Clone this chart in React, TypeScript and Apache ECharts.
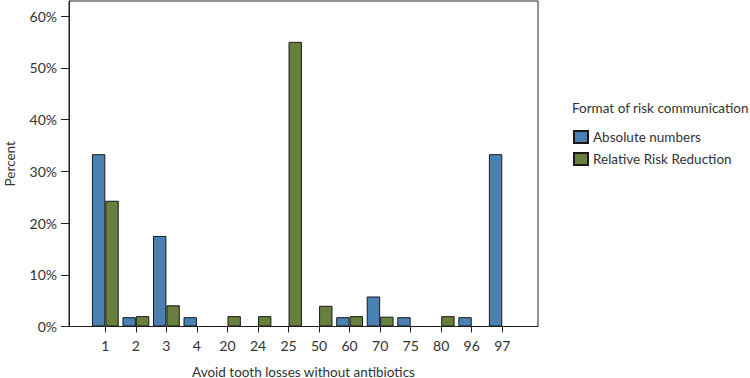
import React, { useEffect, useRef } from "react";
import * as echarts from "echarts";

const categories = ["1", "2", "3", "4", "20", "24", "25", "50", "60", "70", "75", "80", "96", "97"];
const absoluteNumbers = [33.3, 1.8, 17.5, 1.8, 0, 0, 0, 0, 1.8, 5.8, 1.8, 0, 1.8, 33.3];
const relativeRiskReduction = [24.3, 2.0, 4.1, 0, 2.0, 2.0, 55.0, 4.0, 2.0, 1.9, 0, 2.0, 0, 0];
const yTicks = [0, 10, 20, 30, 40, 50, 60];

const FONT = "Lato";
const TEXT = "#333";

export default function App() {
  const ref = useRef<HTMLDivElement>(null);
  useEffect(() => {
    if (!ref.current) return;
    const chart = echarts.init(ref.current, null, { renderer: "svg" });
    const idx = categories.map((_, i) => i);
    chart.setOption({
      animation: false,
      textStyle: { fontFamily: FONT, color: TEXT },
      title: {
        text: "Format of risk communication",
        left: 572,
        top: 101,
        textStyle: { fontFamily: FONT, fontSize: 13.5, fontWeight: "normal", color: TEXT },
        padding: 0,
      },
      legend: {
        orient: "vertical",
        left: 573,
        top: 130,
        itemWidth: 14,
        itemHeight: 12,
        itemGap: 8,
        padding: 0,
        icon: "rect",
        textStyle: { fontFamily: FONT, fontSize: 13.5, color: TEXT },
      },
      grid: {
        left: 69,
        right: 750 - 538,
        top: 1,
        bottom: 378 - 326.5,
        show: true,
        borderColor: "#222",
        borderWidth: 1,
        containLabel: false,
        outerBoundsMode: "none",
      },
      xAxis: {
        type: "value",
        min: -1.19,
        max: 14.17,
        splitLine: { show: false },
        axisLine: { show: true, onZero: false, lineStyle: { color: "#222" } },
        axisTick: {
          show: true,
          customValues: idx,
          length: 6,
          inside: false,
          lineStyle: { color: "#222" },
        },
        axisLabel: {
          customValues: idx,
          formatter: (v: number) => categories[Math.round(v)] ?? "",
          fontFamily: FONT,
          fontSize: 14,
          color: TEXT,
          margin: 12,
        },
        name: "Avoid tooth losses without antibiotics",
        nameLocation: "middle",
        nameGap: 38,
        nameTextStyle: { fontFamily: FONT, fontSize: 13.5, color: TEXT },
      },
      yAxis: {
        type: "value",
        min: 0,
        max: 62.9,
        splitLine: { show: false },
        axisLine: { show: true, onZero: false, lineStyle: { color: "#222" } },
        axisTick: { show: true, customValues: yTicks, length: 8, lineStyle: { color: "#222" } },
        axisLabel: {
          customValues: yTicks,
          formatter: (v: number) => `${v}%`,
          fontFamily: FONT,
          fontSize: 14,
          color: TEXT,
          margin: 12,
        },
        name: "Percent",
        nameLocation: "middle",
        nameGap: 52,
        nameTextStyle: { fontFamily: FONT, fontSize: 13.5, color: TEXT },
      },
      series: [
        {
          name: "Absolute numbers",
          type: "bar",
          barWidth: 13.4,
          barGap: "0%",
          data: absoluteNumbers.map((v, i) => [i, v]),
          itemStyle: { color: "#4a80b2", borderColor: "#1a1a1a", borderWidth: 1 },
        },
        {
          name: "Relative Risk Reduction",
          type: "bar",
          barWidth: 13.4,
          barGap: "0%",
          data: relativeRiskReduction.map((v, i) => [i, v]),
          itemStyle: { color: "#687f3e", borderColor: "#1a1a1a", borderWidth: 1 },
        },
      ],
    });
    return () => chart.dispose();
  }, []);
  return (
    <div
      ref={ref}
      style={{ position: "absolute", left: 0, top: 0, width: 750, height: 378 }}
    />
  );
}
